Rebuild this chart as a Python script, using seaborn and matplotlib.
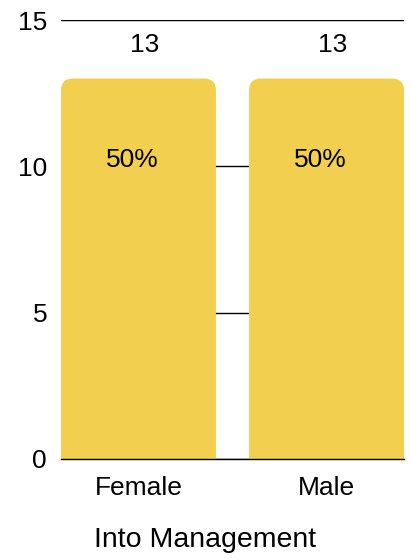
import seaborn as sns
from matplotlib import pyplot as plt
from matplotlib.patches import FancyBboxPatch
import pandas as pd

genders = ['Female', 'Male']
counts = [13, 13]
shares = ['50%', '50%']

df = pd.DataFrame({'gender': genders, 'count': counts})

sns.set_style('white')
plt.rcParams['font.family'] = ['Liberation Sans', 'DejaVu Sans']
plt.rcParams['text.color'] = 'black'
plt.rcParams['xtick.color'] = 'black'
plt.rcParams['ytick.color'] = 'black'
plt.rcParams['axes.labelcolor'] = 'black'

fig = plt.figure(figsize=(4.11, 5.59), dpi=100)
ax = fig.add_axes([0.1484, 0.1789, 0.8346, 0.7853])

bar_color = '#F2CF4E'
width = 0.824
sns.barplot(x='gender', y='count', data=df, color=bar_color, width=width,
            saturation=1, ax=ax, zorder=2)

# swap plain bars for round-topped ones
for p in list(ax.patches):
    x0, w, h = p.get_x(), p.get_width(), p.get_height()
    p.remove()
    fb = FancyBboxPatch((x0, -2), w, h + 2,
                        boxstyle='round,pad=0,rounding_size=0.064',
                        mutation_aspect=6.4, facecolor=bar_color,
                        edgecolor='none', zorder=2)
    ax.add_patch(fb)

for i, (c, s) in enumerate(zip(counts, shares)):
    ax.text(i + 0.032, c + 1.15, str(c), ha='center', va='center', fontsize=19)
    ax.text(i - 0.035, 10.2, s, ha='center', va='center', fontsize=19)

ax.set_xlim(-width / 2, 1 + width / 2)
ax.set_ylim(0, 15)
ax.set_yticks([0, 5, 10, 15])
ax.yaxis.grid(True, color='black', linewidth=1, zorder=0)
ax.set_axisbelow(True)
for side in ['left', 'right', 'top']:
    ax.spines[side].set_visible(False)
ax.spines['bottom'].set_color('black')
ax.spines['bottom'].set_linewidth(1)
ax.spines['bottom'].set_zorder(3)
ax.tick_params(axis='y', length=0, pad=10, labelsize=19)
ax.tick_params(axis='x', length=0, pad=12, labelsize=19)
ax.set_ylabel('')
ax.set_xlabel('')
fig.text(0.5, 1 - 540 / 559, 'Into Management', ha='center', va='center',
         fontsize=20.5)

fig.savefig('out.png', dpi=100)
